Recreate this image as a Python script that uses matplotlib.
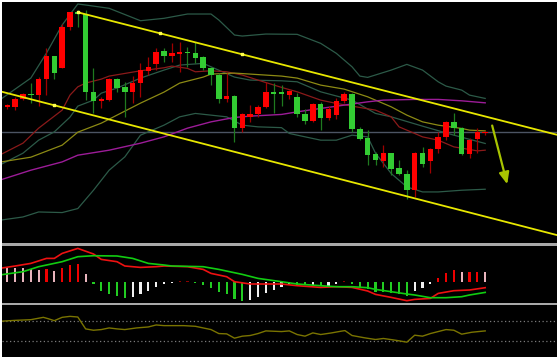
import matplotlib
matplotlib.use('Agg')
import matplotlib.pyplot as plt
from matplotlib.patches import Rectangle
import numpy as np

# candles (red = up, green = down)
opens = [138.3, 133, 133.3, 141.3, 146, 145, 160.7, 184, 172.3, 212.7,
         227.7, 226, 148.3, 139, 140, 160.7, 152.7, 148.3, 156.7, 169.3,
         176, 189, 184.3, 186.3, 188.3, 187.3, 182.7, 171.7, 165, 140.7,
         144, 111.7, 122.7, 126, 132.7, 148.3, 147.7, 145.3, 142.7, 126,
         119, 135.7, 121.7, 125, 139, 145.7, 110.7, 101.7, 85.7, 79.3,
         86.7, 72.3, 66.7, 50.7, 86.7, 79.3, 90.7, 102.7, 117.7, 111.7,
         86, 101, 106.7]
highs = [140, 136, 143, 147, 157, 163, 192, 184, 216, 228,
         230, 230, 172, 143, 162, 162, 158, 164, 177, 183,
         192, 192, 197, 198, 193, 198, 184, 173, 167, 167,
         145, 127, 135, 135, 158, 157, 155, 150, 147, 131,
         137, 138, 134, 142, 148, 147, 113, 110, 88, 95,
         87, 80, 70, 88, 93, 92, 108, 119, 127, 113,
         102, 112, 109]
lows = [131, 131, 130, 140, 137, 134, 145, 161, 172, 210,
        213, 140, 127, 132, 139, 148, 123, 137, 143, 165,
        170, 178, 178, 168, 173, 177, 170, 155, 137, 138,
        98.3, 108, 118, 123, 132, 127, 134, 141, 123, 116,
        118, 110, 120, 121, 137, 108, 100, 75, 75, 73,
        65, 65, 41.7, 43, 73, 67, 87, 100, 105, 85,
        82, 87, 105]
closes = [132.7, 134.7, 141, 145.7, 145, 160.7, 184, 167.3, 212.7, 227.7,
          225.7, 148.3, 139, 141.3, 160.7, 151.7, 148.3, 156.7, 170, 172.7,
          188.3, 184, 186.7, 188.3, 186.7, 181.7, 171.7, 165, 140.7, 144,
          111.7, 125.7, 126, 132.7, 148.3, 146, 145.7, 149, 125.7, 119,
          135.7, 121.7, 130.7, 139, 145.7, 110.7, 101, 85, 80, 86.7,
          71.7, 66.7, 50.7, 86.7, 76.7, 90.7, 103.3, 117.7, 112.3, 86,
          100, 107.7, 108.3]

# bollinger bands and moving averages (bar index, value)
bb_up_x = [0, 4, 6, 8, 10, 11, 14, 18, 21, 24, 27, 28, 30, 31, 34, 38, 41, 43, 45, 46, 47, 50, 52, 54, 56, 57, 59, 60, 62]
bb_up = [140, 162, 187, 215, 236, 235, 231.7, 219.3, 221.7, 226, 226, 220, 205, 204, 206, 205.7, 196.7, 186.7, 173.3, 164, 162.7, 170, 175.7, 170, 158.3, 154, 150, 145, 141.7]
bb_mid_x = [0, 3, 5, 7, 9, 10, 12, 13, 15, 18, 21, 23, 26, 27, 30, 32, 36, 38, 41, 45, 48, 50, 54, 58, 62]
bb_mid = [75, 87, 100, 108.3, 123, 134, 140, 147, 152, 162, 170, 175, 176.7, 173.3, 163, 160, 159.3, 158.3, 148.3, 140, 126.7, 123.3, 114, 105, 96.7]
bb_low_x = [0, 3, 5, 8, 10, 12, 14, 16, 18, 21, 23, 25, 27, 29, 31, 33, 36, 37, 41, 43, 45, 47, 48, 50, 52, 54, 56, 59, 62]
bb_low = [20, 23.3, 28.3, 27.7, 31.7, 50, 70, 83.3, 105, 115, 123.3, 126.7, 125, 123.3, 115, 113.3, 112.5, 106.7, 100, 100, 105, 103.3, 87, 66.7, 53.3, 48.3, 48.3, 50, 51]
ma_red_x = [0, 3, 5, 8, 9, 10, 11, 13, 14, 18, 21, 22, 24, 25, 27, 29, 31, 33, 36, 38, 41, 43, 45, 48, 50, 51, 53, 54, 56, 58, 60, 61, 62]
ma_red = [85, 97, 112, 130, 145, 153.3, 157, 161, 164, 169.3, 172.3, 174, 171.7, 168.3, 169.3, 168.3, 165, 160, 152.7, 148.3, 140, 136.7, 134, 130, 123.3, 113.3, 106.7, 103.3, 100, 93.3, 90.7, 89.3, 90]
ma_olive_x = [0, 4, 8, 10, 13, 15, 18, 21, 23, 26, 27, 30, 32, 36, 38, 41, 44, 47, 50, 52, 54, 56, 59, 60, 62]
ma_olive = [78, 83, 95, 108, 117, 125, 137, 148, 157, 163, 166, 167, 166, 164, 162, 155, 151, 143.3, 133.3, 125, 118.3, 115, 111.7, 110, 109.3]
ma_purple_x = [0, 4, 8, 10, 14, 18, 21, 24, 27, 30, 32, 36, 38, 41, 44, 47, 49, 53, 56, 59, 62]
ma_purple = [60, 70, 78.3, 85, 90, 97, 103.3, 112, 118.3, 122.7, 124, 125.7, 128.3, 131.7, 135, 138.3, 140, 140.7, 140.7, 139.3, 137.3]

# channel
chan_up_x = [10, 72]
chan_up = [227.7, 103.7]
chan_low_x = [-1, 72]
chan_low = [151, 3.5]
dots_x = [10, 20.5, 31, 7]
dots_y = [227.7, 206.7, 185.7, 135]
level = 108

# MACD
hist = [14.5, 14.3, 13.3, 13.3, 12.3, 11.7, 12.7, 10.7, 14, 16.7,
        17.3, 7.3, -2.3, -9.3, -12.3, -14, -16, -15.7, -12.7, -9,
        -5, -2.7, -1.3, 0.7, 0.7, -1.7, -3.3, -6, -10.7, -12.7,
        -17.7, -19, -18.3, -15.7, -11.7, -8.3, -5, -2.7, -3.3, -3.3,
        -3.3, -3.7, -4, -2, 0.7, -2.3, -5, -7.7, -10, -10.7,
        -11.7, -12.7, -14, -9, -6, -2.3, 4, 8.3, 11.7, 10,
        10, 9.7, 9.7]
hist_col = ['p', 'p', 'p', 'p', 'p', 'p', 'r', 'p', 'r', 'r',
            'r', 'p', 'g', 'g', 'g', 'g', 'g', 'w', 'w', 'w',
            'w', 'w', 'w', 'd', 'd', 'g', 'g', 'g', 'g', 'g',
            'g', 'g', 'w', 'w', 'w', 'w', 'w', 'w', 'g', 'g',
            'w', 'g', 'w', 'w', 'd', 'g', 'g', 'g', 'g', 'g',
            'g', 'g', 'g', 'w', 'w', 'w', 'r', 'r', 'r', 'p',
            'r', 'r', 'p']
macd_red_x = [0, 2, 4, 6, 7, 8, 10, 12, 13, 15, 16, 18, 20, 21, 24, 26, 27, 29, 30, 32, 36, 38, 41, 43, 45, 47, 48, 50, 52, 53, 55, 56, 58, 60, 62]
macd_red = [13.3, 15.7, 18.3, 23.3, 23.3, 28.3, 33.3, 27.7, 22.3, 20, 15.7, 14.3, 15, 15.7, 15, 12.3, 8.3, 5, 0, -2.3, -2.3, -4, -5.7, -5, -5.7, -9.3, -12.7, -15.7, -19, -17.7, -16.7, -11.7, -9, -8.3, -6]
macd_grn_x = [0, 3, 5, 8, 10, 12, 15, 17, 19, 21, 22, 26, 28, 31, 33, 36, 38, 41, 43, 45, 47, 48, 50, 52, 53, 55, 57, 59, 60, 62]
macd_grn = [6.7, 10, 15, 20, 25, 26, 25.7, 23.3, 18.3, 16.7, 15.7, 15, 12.3, 7.3, 3.3, 0, -2.3, -4, -5, -5, -6, -7.7, -10, -12.3, -13.3, -16, -16, -15, -13.3, -10.7]

# oscillator
osc_x = [0, 2, 4, 5.6, 6.2, 7, 8, 9, 10, 11, 12, 13, 14, 15, 16, 17.5, 19, 20, 21, 22, 23.5, 25, 26, 27, 28, 29, 30, 31, 32, 33, 34, 36, 37, 38, 39, 40, 41, 42.4, 43.6, 44.1, 45, 46.6, 48, 49, 50.5, 52, 53, 54, 55, 57, 58, 59, 60.3, 62]
osc = [68.7, 70.6, 71.9, 76.5, 73.9, 70, 76.5, 78.4, 77.1, 53.9, 51.3, 52.6, 55.8, 53.9, 52.6, 55.8, 57.7, 61.6, 60.3, 60.3, 60.3, 59, 55.8, 52.6, 44.8, 44.2, 35.8, 39.7, 41, 44.8, 50, 48.7, 50, 42.9, 39.7, 46.1, 42.9, 46.1, 49.4, 50.6, 41, 36.5, 33.2, 35.2, 31.9, 28, 41.6, 39.7, 44.8, 52.6, 51.3, 43.6, 47.4, 50]
osc_levels = [70, 30]

xlim = (0.26, 71.1)

fig = plt.figure(figsize=(5.58, 3.58), dpi=100, facecolor='white')
W, H = 558.0, 358.0

def rect(top, bottom):
    return [1.5 / W, 1 - bottom / H, 555 / W, (bottom - top) / H]

ax = fig.add_axes(rect(1.5, 243.3))
ax2 = fig.add_axes(rect(245.7, 302.7))
ax3 = fig.add_axes(rect(305.3, 356.5))
for a in (ax, ax2, ax3):
    a.set_facecolor('black')
    a.set_xlim(xlim)
    a.set_xticks([])
    a.set_yticks([])
    for s in a.spines.values():
        s.set_visible(False)

# gray separators between panels
for top, bot in [(243.3, 245.7), (302.7, 305.3)]:
    fig.patches.append(Rectangle((1.5 / W, 1 - bot / H), 555 / W, (bot - top) / H,
                                 transform=fig.transFigure, facecolor='#a8a8a8',
                                 edgecolor='none'))

# --- main panel
ax.set_ylim(-3, 238.5)
ax.axhline(level, color='#4c5463', lw=1.0, zorder=1)
ax.plot(bb_up_x, bb_up, color='#2c5a48', lw=0.9, zorder=2)
ax.plot(bb_mid_x, bb_mid, color='#2c5a48', lw=0.9, zorder=2)
ax.plot(bb_low_x, bb_low, color='#2c5a48', lw=0.9, zorder=2)
ax.plot(ma_red_x, ma_red, color='#8b1a1a', lw=0.9, zorder=2)
ax.plot(ma_olive_x, ma_olive, color='#8c8a14', lw=0.9, zorder=2)
ax.plot(ma_purple_x, ma_purple, color='#9c1c98', lw=1.0, zorder=2)

idx = np.arange(len(opens))
o = np.array(opens)
c = np.array(closes)
up = c >= o
body_col = np.where(up, '#ff0000', '#33cc33')
wick_col = np.where(up, '#a00000', '#1f7a1f')
ax.vlines(idx, lows, highs, colors=wick_col, lw=0.9, zorder=3)
bh = np.maximum(np.abs(c - o), 1.2)
ax.bar(idx, bh, bottom=np.minimum(o, c), width=0.7, color=body_col, zorder=4)

ax.plot(chan_up_x, chan_up, color='#e8e800', lw=1.3, zorder=5)
ax.plot(chan_low_x, chan_low, color='#e8e800', lw=1.3, zorder=5)
ax.scatter(dots_x, dots_y, s=4, marker='s', color='#ffff50', zorder=6)

ax.annotate('', xy=(64.9, 53.3), xytext=(62.8, 117.3),
            arrowprops=dict(arrowstyle='-|>,head_width=0.3,head_length=0.7',
                            color='#a8c400', lw=1.6))

# --- MACD
ax2.set_ylim(-21, 36)
cmap = {'p': '#e8b4bc', 'r': '#ee0000', 'g': '#22cc22', 'w': '#f0f0f0', 'd': '#8b0000'}
ax2.bar(idx, hist, width=0.28, color=[cmap[k] for k in hist_col], zorder=2)
ax2.plot(macd_red_x, macd_red, color='#ee1111', lw=1.2, zorder=3)
ax2.plot(macd_grn_x, macd_grn, color='#11cc11', lw=1.2, zorder=3)

# --- oscillator
ax3.set_ylim(0, 100)
for lv in osc_levels:
    ax3.axhline(lv, color='#7a7a7a', lw=0.9, ls=(0, (1, 2)))
ax3.plot(osc_x, osc, color='#7a7400', lw=1.0)

fig.savefig('out.png', dpi=100, facecolor='white')
